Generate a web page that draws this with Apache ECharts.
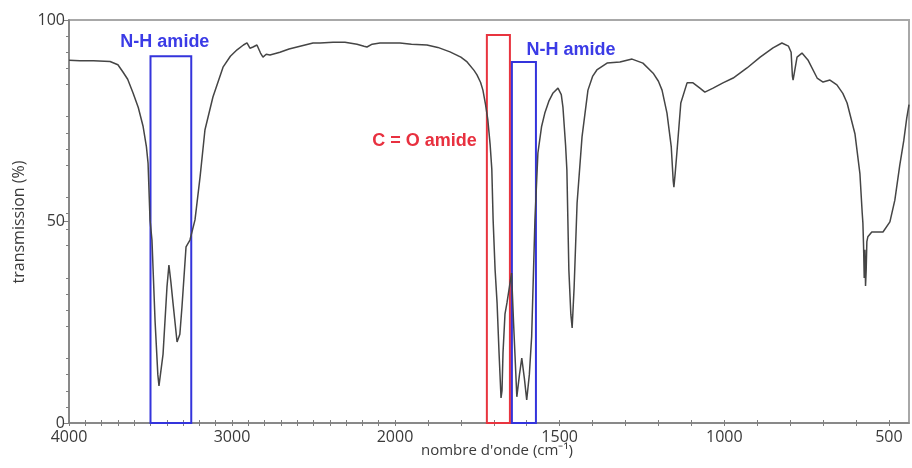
<!doctype html>
<html lang="fr">
<head>
<meta charset="UTF-8">
<title>Spectre IR</title>
<script src="https://cdn.jsdelivr.net/npm/echarts@6/dist/echarts.min.js"></script>
<style>
html,body{margin:0;padding:0;background:#fff;}
#chart{width:912px;height:468px;}
</style>
</head>
<body>
<div id="chart"></div>
<script>
// spectre : nombre d'onde (cm-1) / transmission (%)
var wavenumber = [4000, 3933, 3850, 3748, 3700, 3669, 3640, 3607, 3575, 3546, 3525, 3515, 3503, 3491, 3472, 3455, 3448, 3440, 3423, 3399, 3387, 3375, 3362, 3337, 3320, 3307, 3282, 3258, 3227, 3196, 3166, 3117, 3055, 3010, 2969, 2930, 2908, 2890, 2871, 2847, 2825, 2810, 2790, 2767, 2706, 2650, 2601, 2503, 2460, 2380, 2307, 2233, 2190, 2172, 2140, 2092, 2000,
  1985, 1950, 1903, 1870, 1833, 1800, 1781, 1760, 1751, 1740, 1733, 1725, 1718, 1711, 1706, 1702, 1696, 1690, 1684, 1678, 1675, 1672, 1666, 1660, 1652, 1646, 1640, 1630, 1622, 1615, 1607, 1600, 1592, 1585, 1575, 1566, 1555, 1545, 1532, 1520, 1505, 1495, 1490, 1482, 1478, 1472, 1466, 1462, 1456, 1447, 1432, 1414, 1400, 1387, 1356, 1317, 1280, 1247, 1216, 1200, 1189, 1174, 1161, 1155, 1153, 1149, 1144, 1132, 1113, 1095, 1074, 1059, 1034, 1004, 973, 931, 891, 852, 825, 805, 797, 793, 791, 787, 779, 764, 746, 718, 700, 679, 658, 640, 627, 603, 588, 581, 579, 577, 575, 573, 571, 569, 567, 564, 552, 518, 497, 482, 467, 455, 446, 439];
var transmission = [90.0, 89.9, 89.9, 89.7, 88.9, 87.1, 85.3, 81.9, 78.3, 73.7, 68.5, 64.5, 50.4, 45.4, 25.3, 12, 9.2, 9.5, 17.1, 33.7, 39.2, 35, 29.8, 20.1, 22, 28.8, 43.7, 45.4, 50.4, 61.0, 72.7, 80.9, 88.3, 91, 92.6, 93.8, 94.3, 93.0, 93.3, 93.8, 91.8, 90.8, 91.5, 91.3, 92.0, 92.8, 93.3, 94.3, 94.3, 94.5, 94.5, 94.0, 93.5, 93.3, 94, 94.3, 94.3,
  94.3, 94.0, 93.8, 93.2, 92.1, 90.8, 89.6, 87.5, 86.4, 84.5, 82.6, 79, 75.2, 69, 63, 50.4, 38, 29.8, 17.4, 6.2, 8, 17.4, 27, 29.8, 34, 37.2, 25, 6.5, 12, 16.1, 11, 5.7, 12, 21.4, 50.4, 67, 73.5, 76.9, 80, 81.9, 83.1, 81.5, 78.4, 69, 62.8, 38, 27, 23.6, 33.7, 54.6, 71, 82.6, 86, 87.6, 89.3, 89.6, 90.3, 89.3, 86.8, 84.8, 82.6, 76.9, 68.5, 60, 58.5, 62, 67.0, 79.4, 84.4, 84.4, 83.1, 82.1, 83.1, 84.4, 85.6, 88.1, 90.8, 93.1, 94.3, 93.5, 92, 86, 85.1, 87, 90.8, 91.8, 90.1, 85.6, 84.6, 85.1, 83.9, 81.8, 79.4, 71.7, 61.8, 52, 49.6, 44, 36, 43, 34, 38, 45, 46.2, 47.4, 47.4, 49.9, 55.3, 64, 70, 75.6, 79];

// cadres d'annotation
var boxFrom = [3500, 1721, 1645];
var boxTo = [3250, 1651, 1572];
var boxTop = [91, 96.3, 89.6];
var boxText = ['N-H amide', 'C = O amide', 'N-H amide'];
var boxColor = ['#3434dc', '#e8343f', '#3434dc'];
var textColor = ['#3b3be6', '#e8303f', '#3b3be6'];

// graduations
var labelsHigh = [4000, 3000, 2000];
var labelsLow = [1500, 1000, 500];
var yLabels = [0, 50, 100];

var ticksHigh = [], ticksLow = [];
for (var t = 2000; t <= 4000; t += 100) ticksHigh.push(t);
for (var t2 = 500; t2 <= 2000; t2 += 100) ticksLow.push(t2);

var highData = [], lowData = [];
for (var i = 0; i < wavenumber.length; i++) {
  if (wavenumber[i] >= 2000) highData.push([wavenumber[i], transmission[i]]);
  if (wavenumber[i] <= 2000) lowData.push([wavenumber[i], transmission[i]]);
}

// position du texte autour du cadre
var boxLabel = [
  { position: 'top', offset: [-6, 0], distance: 4 },
  { position: 'left', offset: [0, -88], distance: 9 },
  { position: 'top', offset: [47, 2], distance: 4 }
];

function areasFor(lo, hi) {
  var out = [];
  for (var k = 0; k < boxFrom.length; k++) {
    if (boxFrom[k] > hi || boxTo[k] < lo) continue;
    out.push([
      {
        xAxis: boxFrom[k], yAxis: 0,
        itemStyle: { color: 'rgba(0,0,0,0)', borderColor: boxColor[k], borderWidth: 2 },
        label: {
          show: true, formatter: boxText[k], position: boxLabel[k].position,
          offset: boxLabel[k].offset, distance: boxLabel[k].distance,
          color: textColor[k], fontFamily: 'Liberation Sans', fontWeight: 'bold', fontSize: 18
        }
      },
      { xAxis: boxTo[k], yAxis: boxTop[k] }
    ]);
  }
  return out;
}

var axisGray = '#7f7f7f';
var plain = function (v) { return String(v); };
var labelFont = { fontFamily: 'Open Sans', fontSize: 16, color: '#3a3a3a', formatter: plain };

var myChart = echarts.init(document.getElementById('chart'));
var option = {
  animation: false,
  backgroundColor: '#fff',
  grid: [
    { left: 69, top: 20, right: 3, bottom: 45, show: true, borderColor: '#a8a8a8', borderWidth: 2, backgroundColor: 'transparent', z: 0 },
    { left: 69, top: 20, width: 326, bottom: 45 },
    { left: 395, top: 20, right: 3, bottom: 45 }
  ],
  xAxis: [
    { gridIndex: 0, type: 'value', min: 0, max: 1, show: false },
    {
      gridIndex: 1, type: 'value', min: 2000, max: 4000, inverse: true, position: 'bottom',
      axisLine: { lineStyle: { color: axisGray, width: 1.5 } },
      axisTick: { customValues: ticksHigh, length: 3, lineStyle: { color: axisGray } },
      axisLabel: Object.assign({ customValues: labelsHigh, margin: 6 }, labelFont),
      splitLine: { show: false }
    },
    {
      gridIndex: 1, type: 'value', min: 2000, max: 4000, inverse: true, position: 'bottom',
      axisLine: { show: false },
      axisTick: { customValues: ticksHigh, inside: true, length: 3, lineStyle: { color: axisGray } },
      axisLabel: { show: false }, splitLine: { show: false }
    },
    {
      gridIndex: 2, type: 'value', min: 439, max: 2000, inverse: true, position: 'bottom',
      axisLine: { lineStyle: { color: axisGray, width: 1.5 } },
      axisTick: { customValues: ticksLow, length: 3, lineStyle: { color: axisGray } },
      axisLabel: Object.assign({ customValues: labelsLow, margin: 6 }, labelFont),
      splitLine: { show: false }
    },
    {
      gridIndex: 2, type: 'value', min: 439, max: 2000, inverse: true, position: 'bottom',
      axisLine: { show: false },
      axisTick: { customValues: ticksLow, inside: true, length: 3, lineStyle: { color: axisGray } },
      axisLabel: { show: false }, splitLine: { show: false }
    }
  ],
  yAxis: [
    { gridIndex: 0, type: 'value', min: 0, max: 1, show: false },
    {
      gridIndex: 1, type: 'value', min: 0, max: 100,
      axisLine: { show: true, lineStyle: { color: axisGray, width: 1.5 } },
      axisTick: { show: true, customValues: yLabels, length: 6, lineStyle: { color: axisGray } },
      minorTick: { show: true, splitNumber: 5, length: 3, lineStyle: { color: axisGray } },
      axisLabel: Object.assign({ customValues: yLabels, margin: 4 }, labelFont),
      splitLine: { show: false }
    },
    { gridIndex: 2, type: 'value', min: 0, max: 100, show: false }
  ],
  graphic: [
    {
      type: 'text', x: 497, y: 451,
      style: { text: "nombre d'onde (cm⁻¹)", fill: '#3a3a3a', font: '15px "Open Sans"', textAlign: 'center', textVerticalAlign: 'middle' }
    },
    {
      type: 'text', x: 19, y: 222, rotation: Math.PI / 2,
      style: { text: 'transmission (%)', fill: '#3a3a3a', font: '16px "Open Sans"', textAlign: 'center', textVerticalAlign: 'middle' }
    }
  ],
  series: [
    {
      type: 'line', xAxisIndex: 1, yAxisIndex: 1, data: highData,
      showSymbol: false, lineStyle: { color: '#454545', width: 1.5 }, z: 3,
      markArea: { silent: true, data: areasFor(2000, 4000) }
    },
    {
      type: 'line', xAxisIndex: 3, yAxisIndex: 2, data: lowData,
      showSymbol: false, lineStyle: { color: '#454545', width: 1.5 }, z: 3,
      markArea: { silent: true, data: areasFor(439, 2000) }
    }
  ]
};
myChart.setOption(option);
</script>
</body>
</html>
